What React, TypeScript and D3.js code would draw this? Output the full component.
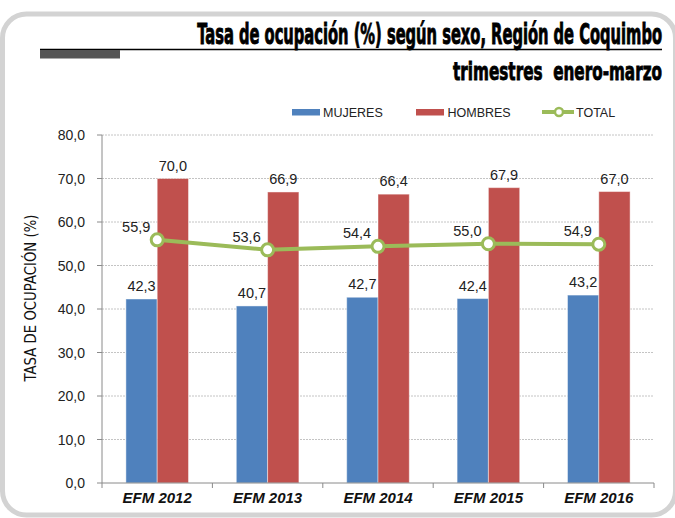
import React, { useLayoutEffect, useRef, useState } from "react";
import * as d3 from "d3";

const categories = ["EFM 2012", "EFM 2013", "EFM 2014", "EFM 2015", "EFM 2016"];
const mujeres = [42.3, 40.7, 42.7, 42.4, 43.2];
const hombres = [70.0, 66.9, 66.4, 67.9, 67.0];
const total = [55.9, 53.6, 54.4, 55.0, 54.9];
const yTicks = [0, 10, 20, 30, 40, 50, 60, 70, 80];
const seriesNames = ["MUJERES", "HOMBRES"];
const titleText = "Tasa de ocupación (%) según sexo, Región de Coquimbo";
const subtitleText = "trimestres\u00A0\u00A0enero-marzo";
const yTitleText = "TASA DE OCUPACIÓN (%)";

const W = 675;
const H = 518;
const left = 102;
const right = 654;
const top = 135;
const bottom = 483;

const BLUE = "#4F81BD";
const RED = "#C0504D";
const GREEN = "#9BBB59";

const fmt = (v: number) => v.toFixed(1).replace(".", ",");

const narrow = "'Liberation Sans Narrow', 'DejaVu Sans Condensed', sans-serif";
const arial = "'Liberation Sans', Arial, sans-serif";

type FitProps = {
  x: number;
  y: number;
  width: number;
  anchor: "start" | "middle" | "end";
  rotate?: number;
  children: string;
  [k: string]: any;
};

function FitText({ x, y, width, anchor, rotate = 0, children, ...rest }: FitProps) {
  const ref = useRef<SVGTextElement>(null);
  const [sx, setSx] = useState(1);
  useLayoutEffect(() => {
    if (ref.current) {
      const w = ref.current.getComputedTextLength();
      if (w > 0) setSx(width / w);
    }
  }, [width, children]);
  return (
    <g transform={`translate(${x}, ${y}) rotate(${rotate}) scale(${sx}, 1)`}>
      <text ref={ref} x={0} y={0} textAnchor={anchor} {...rest}>
        {children}
      </text>
    </g>
  );
}

export default function App() {
  const x = d3.scaleBand<string>().domain(categories).range([left, right]).paddingInner(0.433).paddingOuter(0.2165);
  const xs = d3.scaleBand<string>().domain(seriesNames).range([0, x.bandwidth()]).padding(0);
  const y = d3.scaleLinear().domain([0, 80]).range([bottom, top]);
  const step = x.step();
  const cx = (c: string) => (x(c) as number) + x.bandwidth() / 2;
  const line = d3
    .line<number>()
    .x((_, i) => cx(categories[i]))
    .y((d) => y(d));

  return (
    <svg
      width={W}
      height={H}
      style={{ position: "absolute", left: 0, top: 0 }}
      viewBox={`0 0 ${W} ${H}`}
    >
      <rect x={0} y={0} width={W} height={H} fill="#fff" />
      <rect x={2.5} y={14} width={673} height={501} rx={24} ry={24} fill="#fff" stroke="#d3d3d3" strokeWidth={5} />

      {/* title */}
      <FitText
        x={662}
        y={44}
        width={465}
        anchor="end"
        fontFamily={narrow}
        fontWeight="bold"
        fontSize={28}
        fill="#000"
        stroke="#000"
        strokeWidth={0.9}
      >
        {titleText}
      </FitText>
      <line x1={40} x2={662} y1={49.5} y2={49.5} stroke="#000" strokeWidth={1.5} />
      <rect x={40} y={50} width={80} height={8.5} fill="#555555" />
      <FitText
        x={662}
        y={80}
        width={209}
        anchor="end"
        fontFamily={narrow}
        fontWeight="bold"
        fontSize={24}
        fill="#000"
        stroke="#000"
        strokeWidth={0.8}
      >
        {subtitleText}
      </FitText>

      {/* legend */}
      <rect x={292} y={109} width={28} height={6.5} fill={BLUE} />
      <text x={323} y={116.5} fontFamily={arial} fontSize={12.5} fill="#222">MUJERES</text>
      <rect x={416} y={109} width={28} height={6.5} fill={RED} />
      <text x={447.5} y={116.5} fontFamily={arial} fontSize={12.5} fill="#222">HOMBRES</text>
      <line x1={542} x2={574} y1={112} y2={112} stroke={GREEN} strokeWidth={4} />
      <circle cx={559} cy={112} r={4} fill="#fff" stroke={GREEN} strokeWidth={2.5} />
      <text x={576} y={116.5} fontFamily={arial} fontSize={12.5} fill="#222">TOTAL</text>

      {/* gridlines */}
      {yTicks.filter((t) => t > 0).map((t) => (
        <line key={t} x1={left} x2={right} y1={y(t)} y2={y(t)} stroke="#c4c4c4" strokeWidth={1} strokeDasharray="2,1" />
      ))}

      {/* y axis */}
      <line x1={left} x2={left} y1={top} y2={bottom} stroke="#8a8a8a" strokeWidth={1} />
      {yTicks.map((t) => (
        <g key={t}>
          <line x1={left - 5} x2={left} y1={y(t)} y2={y(t)} stroke="#8a8a8a" strokeWidth={1} />
          <text x={85} y={y(t) + 5} textAnchor="end" fontFamily={arial} fontSize={14} fill="#222">
            {fmt(t)}
          </text>
        </g>
      ))}
      <FitText
        x={36}
        y={298}
        rotate={-90}
        width={167}
        anchor="middle"
        fontFamily={narrow}
        fontSize={15.5}
        fill="#111"
      >
        {yTitleText}
      </FitText>

      {/* bars */}
      {categories.map((c, i) => {
        const x0 = x(c) as number;
        const vals = [mujeres[i], hombres[i]];
        return (
          <g key={c}>
            {seriesNames.map((s, j) => {
              const bx = x0 + (xs(s) as number);
              const v = vals[j];
              return (
                <g key={s}>
                  <rect
                    x={bx}
                    y={y(v)}
                    width={xs.bandwidth()}
                    height={bottom - y(v)}
                    fill={j === 0 ? BLUE : RED}
                    stroke="rgba(255,255,255,0.45)"
                    strokeWidth={1}
                  />
                  <text
                    x={bx + xs.bandwidth() / 2}
                    y={y(v) - 8}
                    textAnchor="middle"
                    fontFamily={arial}
                    fontSize={14.5}
                    fill="#222"
                  >
                    {fmt(v)}
                  </text>
                </g>
              );
            })}
          </g>
        );
      })}

      {/* x axis */}
      <line x1={left} x2={right} y1={bottom} y2={bottom} stroke="#8a8a8a" strokeWidth={1} />
      {d3.range(categories.length + 1).map((k) => (
        <line key={k} x1={left + k * step} x2={left + k * step} y1={bottom} y2={bottom + 5} stroke="#8a8a8a" strokeWidth={1} />
      ))}
      {categories.map((c) => (
        <text
          key={c}
          x={cx(c)}
          y={503}
          textAnchor="middle"
          fontFamily={arial}
          fontWeight="bold"
          fontStyle="italic"
          fontSize={15}
          fill="#111"
        >
          {c}
        </text>
      ))}

      {/* total line */}
      <path d={line(total) || ""} fill="none" stroke={GREEN} strokeWidth={4} />
      {total.map((v, i) => (
        <g key={i}>
          <circle cx={cx(categories[i])} cy={y(v)} r={6} fill="#fff" stroke={GREEN} strokeWidth={3} />
          <text
            x={cx(categories[i]) - 21}
            y={y(v) - 8}
            textAnchor="middle"
            fontFamily={arial}
            fontSize={14.5}
            fill="#222"
          >
            {fmt(v)}
          </text>
        </g>
      ))}
    </svg>
  );
}
